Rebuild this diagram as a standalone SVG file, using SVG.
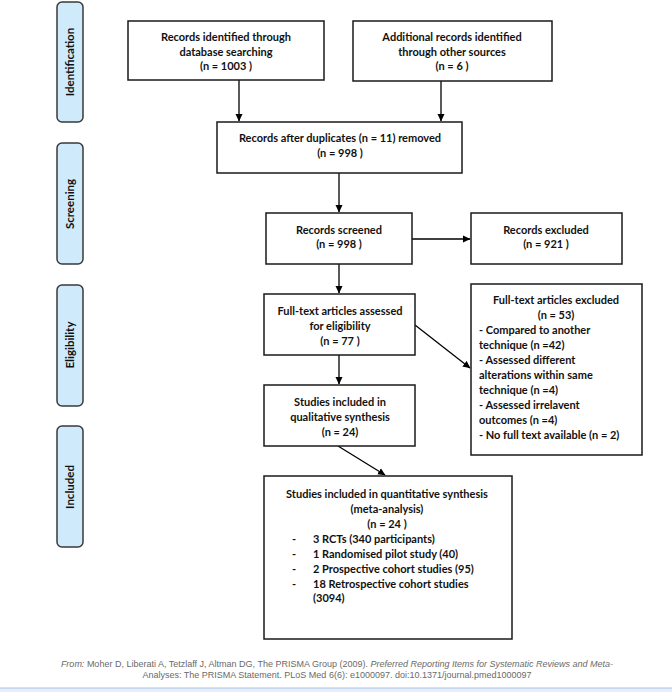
<svg xmlns="http://www.w3.org/2000/svg" width="672" height="692" viewBox="0 0 672 692">
<defs>
<marker id="ah" markerWidth="8" markerHeight="8" refX="7" refY="4" orient="auto" markerUnits="userSpaceOnUse">
<path d="M0,0.5 L7.5,4 L0,7.5 Z" fill="#000"/>
</marker>
<style>
.box{fill:#fff;stroke:#1a1a1a;stroke-width:1.5}
.pill{fill:#cfeafb;stroke:#3a3a3a;stroke-width:1.5}
.t{font-family:Lato,"Open Sans","Liberation Sans",sans-serif;font-weight:bold;font-size:11px;fill:#111}
.c{text-anchor:middle}
.side{font-family:Lato,"Open Sans","Liberation Sans",sans-serif;font-weight:bold;font-size:11.5px;fill:#111;text-anchor:middle}
.conn{stroke:#000;stroke-width:1.3;fill:none;marker-end:url(#ah)}
.foot{font-family:"Liberation Sans",Arial,sans-serif;font-size:9px;fill:#6a6a6a;text-anchor:middle}
</style>
</defs>
<rect width="672" height="692" fill="#fff"/>

<g id="stage-identification">
<rect class="pill" x="57" y="2" width="26" height="120" rx="5"/>
<text class="side" transform="translate(74,62) rotate(-90)">Identification</text>
</g>
<g id="stage-screening">
<rect class="pill" x="57" y="143" width="26" height="121" rx="5"/>
<text class="side" transform="translate(74,204) rotate(-90)">Screening</text>
</g>
<g id="stage-eligibility">
<rect class="pill" x="57" y="285" width="26" height="121" rx="5"/>
<text class="side" transform="translate(74,345) rotate(-90)">Eligibility</text>
</g>
<g id="stage-included">
<rect class="pill" x="57" y="426" width="26" height="121" rx="5"/>
<text class="side" transform="translate(74,487) rotate(-90)">Included</text>
</g>

<g id="connectors">
<line class="conn" x1="239" y1="80" x2="239" y2="121"/>
<line class="conn" x1="441" y1="81" x2="441" y2="121"/>
<line class="conn" x1="339" y1="173" x2="339" y2="212"/>
<line class="conn" x1="412" y1="239" x2="470" y2="239"/>
<line class="conn" x1="339" y1="264" x2="339" y2="293"/>
<line class="conn" x1="415" y1="325" x2="470" y2="368"/>
<line class="conn" x1="339" y1="355" x2="339" y2="384"/>
<line class="conn" x1="338" y1="446" x2="385" y2="475"/>
</g>

<g id="n-db">
<rect class="box" x="128" y="21" width="196" height="59"/>
<text class="t c" x="226" y="41">Records identified through</text>
<text class="t c" x="226" y="56">database searching</text>
<text class="t c" x="226" y="70">(n = 1003 )</text>
</g>
<g id="n-other">
<rect class="box" x="353" y="21" width="199" height="60"/>
<text class="t c" x="452" y="41">Additional records identified</text>
<text class="t c" x="452" y="56">through other sources</text>
<text class="t c" x="452" y="70">(n = 6 )</text>
</g>
<g id="n-dup">
<rect class="box" x="217" y="122" width="245" height="51"/>
<text class="t c" x="340" y="142">Records after duplicates (n = 11) removed</text>
<text class="t c" x="340" y="157">(n = 998 )</text>
</g>
<g id="n-screened">
<rect class="box" x="266" y="213" width="146" height="51"/>
<text class="t c" x="339" y="234">Records screened</text>
<text class="t c" x="339" y="248">(n = 998 )</text>
</g>
<g id="n-excluded">
<rect class="box" x="471" y="213" width="151" height="51"/>
<text class="t c" x="546" y="234">Records excluded</text>
<text class="t c" x="546" y="248">(n =  921 )</text>
</g>
<g id="n-fulltext">
<rect class="box" x="264" y="294" width="151" height="61"/>
<text class="t c" x="340" y="315">Full-text articles assessed</text>
<text class="t c" x="340" y="330">for eligibility</text>
<text class="t c" x="340" y="345">(n = 77  )</text>
</g>
<g id="n-ft-excluded">
<rect class="box" x="471" y="284" width="171" height="171"/>
<text class="t c" x="556" y="304">Full-text articles excluded</text>
<text class="t c" x="556" y="319">(n = 53)</text>
<text class="t" x="479" y="334">- Compared to another</text>
<text class="t" x="479" y="349">technique (n =42)</text>
<text class="t" x="479" y="364">- Assessed different</text>
<text class="t" x="479" y="379">alterations within same</text>
<text class="t" x="479" y="394">technique (n =4)</text>
<text class="t" x="479" y="409">-  Assessed irrelavent</text>
<text class="t" x="479" y="424">outcomes (n =4)</text>
<text class="t" x="479" y="439">- No full text available (n = 2)</text>
</g>
<g id="n-qual">
<rect class="box" x="264" y="385" width="151" height="61"/>
<text class="t c" x="340" y="406">Studies included in</text>
<text class="t c" x="340" y="421">qualitative synthesis</text>
<text class="t c" x="340" y="436">(n = 24)</text>
</g>
<g id="n-quant">
<rect class="box" x="264" y="476" width="248" height="163"/>
<text class="t c" x="387" y="498">Studies included in quantitative synthesis</text>
<text class="t c" x="387" y="513">(meta-analysis)</text>
<text class="t c" x="387" y="528">(n = 24 )</text>
<text class="t" x="292" y="543">-</text><text class="t" x="313" y="543">3 RCTs (340 participants)</text>
<text class="t" x="292" y="558">-</text><text class="t" x="313" y="558">1 Randomised pilot study (40)</text>
<text class="t" x="292" y="573">-</text><text class="t" x="313" y="573">2 Prospective cohort studies (95)</text>
<text class="t" x="292" y="588">-</text><text class="t" x="313" y="588">18 Retrospective cohort studies</text>
<text class="t" x="313" y="602">(3094)</text>
</g>

<g id="footer">
<text class="foot" x="337" y="667"><tspan font-style="italic">From: </tspan>Moher D, Liberati A, Tetzlaff J, Altman DG, The PRISMA Group (2009). <tspan font-style="italic">Preferred Reporting Items for Systematic Reviews and Meta-</tspan></text>
<text class="foot" x="337" y="678">Analyses: The PRISMA Statement. PLoS Med 6(6): e1000097. doi:10.1371/journal.pmed1000097</text>
<rect x="0" y="688" width="672" height="4" fill="#e6eef9"/>
<line x1="0" y1="688" x2="672" y2="688" stroke="#a9c3e8" stroke-width="1"/>
</g>
</svg>
